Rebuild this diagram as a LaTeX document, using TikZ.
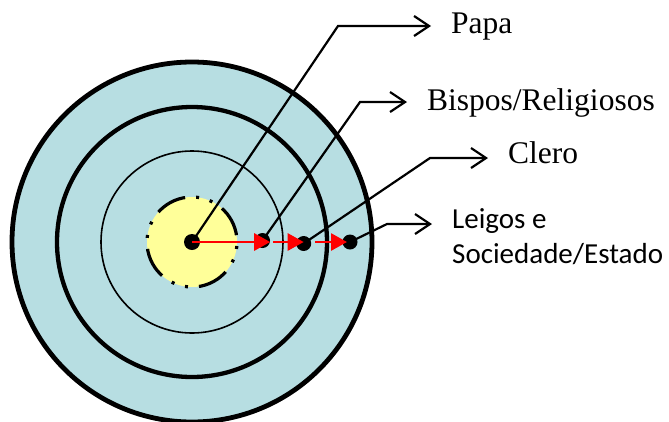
\documentclass[tikz,border=0pt]{standalone}
\usepackage{fontspec}
\setmainfont{Liberation Serif}
\newfontfamily\calib{Carlito}
\usetikzlibrary{arrows.meta}

\definecolor{ringblue}{RGB}{183,222,226}
\definecolor{coreyellow}{RGB}{255,255,153}
\definecolor{flowred}{RGB}{255,0,0}

\tikzset{
  ring/.style={draw=black},
  dotnode/.style={circle, fill=black, inner sep=0pt, minimum size=15pt},
  leader/.style={draw=black, line width=2.2pt, line join=miter,
    -{Straight Barb[length=15pt,width=20pt,line width=2.2pt]}},
  flow/.style={draw=flowred, line width=2.8pt,
    -{Triangle[length=16pt,width=17pt]}, color=flowred},
  serlbl/.style={inner xsep=20pt, inner ysep=0pt,
    font=\fontsize{31.5}{38}\selectfont},
  sanslbl/.style={inner xsep=20pt, inner ysep=0pt, align=left,
    font=\calib\fontsize{29}{35}\selectfont},
}

\begin{document}
\begin{tikzpicture}[x=1pt, y=-1pt]
  \useasboundingbox (0,0) rectangle (669,421);

  % concentric rings
  \coordinate (o) at (192,242);
  \fill[ringblue] (o) circle[radius=180];
  \draw[ring, line width=4.8pt] (o) circle[radius=180];
  \draw[ring, line width=4.3pt] (o) circle[radius=135];
  \draw[ring, line width=1.6pt] (o) circle[radius=91];

  % core
  \fill[coreyellow] (o) circle[radius=45];
  \draw[ring, line width=3.2pt,
        dash pattern=on 31pt off 11pt on 3pt off 11pt on 3pt off 11.7pt,
        dash phase=38pt] (o) circle[radius=45];

  % markers
  \node[dotnode, minimum size=16pt] (c0) at (192,242) {};
  \node[dotnode] (d1) at (262.5,240.5) {};
  \node[dotnode] (d2) at (303.7,243.5) {};
  \node[dotnode] (d3) at (350,242) {};

  % labels
  \node[serlbl, anchor=base west] (papa)   at (431,33)  {Papa};
  \node[serlbl, anchor=base west] (bispos) at (407,110) {Bispos/Religiosos};
  \node[serlbl, anchor=base west] (clero)  at (488,163.3) {Clero};
  \node[sanslbl, anchor=base west] (leigos) at (432,263)
        {Leigos e\\Sociedade/Estado};

  % leader lines
  \coordinate (kp) at (338,26);
  \coordinate (kb) at (360,102);
  \coordinate (kc) at (430,158);
  \coordinate (kl) at (387,224);
  \draw[leader] (c0.center) -- (kp) -- (kp -| papa.west);
  \draw[leader] (d1.center) -- (kb) -- (kb -| bispos.west);
  \draw[leader] (d2.center) -- (kc) -- (kc -| clero.west);
  \draw[leader] (d3.center) -- (kl) -- (kl -| leigos.west);

  % outward flow
  \coordinate (f2) at (273,242);
  \coordinate (f3) at (315,242);
  \draw[flow] (c0.center) -- (d1.east |- c0);
  \draw[flow] (f2) -- (d2.center |- f2);
  \draw[flow] (f3) -- ([xshift=-3pt]d3.center |- f3);
\end{tikzpicture}
\end{document}
